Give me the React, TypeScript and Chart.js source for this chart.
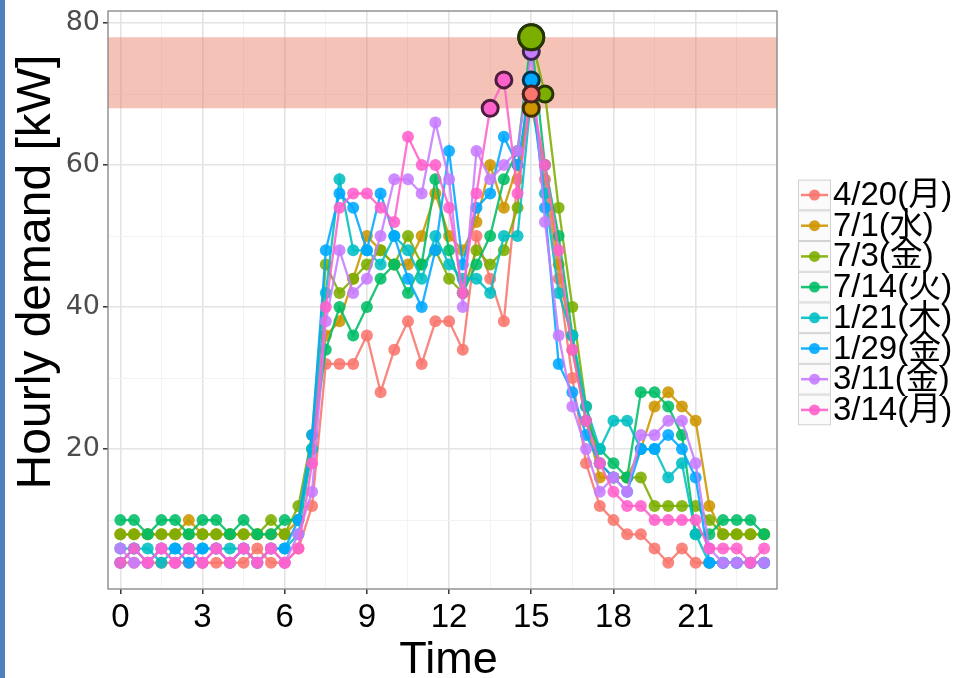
import React, { useEffect, useRef } from "react";
import { Chart, registerables } from "chart.js";

Chart.register(...registerables);

// ---------- data ----------
const TIMES = [0, 0.5, 1, 1.5, 2, 2.5, 3, 3.5, 4, 4.5, 5, 5.5, 6, 6.5, 7, 7.5, 8, 8.5, 9, 9.5, 10, 10.5, 11, 11.5, 12, 12.5, 13, 13.5, 14, 14.5, 15, 15.5, 16, 16.5, 17, 17.5, 18, 18.5, 19, 19.5, 20, 20.5, 21, 21.5, 22, 22.5, 23, 23.5];

const SERIES_LABELS = ["4/20(月)", "7/1(水)", "7/3(金)", "7/14(火)", "1/21(木)", "1/29(金)", "3/11(金)", "3/14(月)"];
const SERIES_COLORS = ["#F8766D", "#CD9600", "#7CAE00", "#00BE67", "#00BFC4", "#00A9FF", "#C77CFF", "#FF61CC"];

const D_0420 = [4, 4, 4, 4, 4, 4, 4, 4, 4, 4, 6, 4, 4, 6, 12, 32, 32, 32, 36, 28, 34, 38, 32, 38, 38, 34, 50, 44, 38, 58, 70, 58, 44, 30, 18, 12, 10, 8, 8, 6, 4, 6, 4, 4, 4, 4, 4, 4];
const D_0701 = [8, 8, 8, 8, 8, 10, 8, 8, 8, 8, 8, 8, 8, 10, 20, 36, 38, 44, 50, 48, 46, 46, 50, 56, 50, 48, 52, 60, 54, 60, 68, 60, 46, 34, 24, 16, 16, 16, 20, 26, 28, 26, 24, 12, 8, 8, 8, 8];
const D_0703 = [8, 8, 8, 8, 8, 8, 8, 8, 8, 8, 8, 10, 8, 12, 22, 46, 42, 44, 46, 48, 46, 50, 46, 48, 44, 42, 48, 46, 48, 54, 78, 70, 54, 40, 26, 18, 16, 16, 16, 12, 12, 12, 12, 10, 8, 8, 8, 8];
const D_0714 = [10, 10, 8, 10, 10, 8, 10, 10, 8, 10, 8, 8, 10, 10, 20, 34, 40, 36, 40, 44, 46, 42, 46, 58, 48, 42, 46, 50, 58, 62, 78, 60, 50, 36, 24, 20, 18, 16, 28, 28, 26, 22, 8, 8, 10, 10, 10, 8];
const D_0121 = [6, 6, 6, 4, 6, 6, 6, 6, 6, 6, 4, 6, 6, 8, 20, 42, 58, 48, 48, 46, 50, 48, 44, 50, 46, 44, 44, 42, 50, 50, 70, 56, 42, 36, 26, 20, 24, 24, 20, 20, 16, 18, 8, 4, 4, 4, 4, 4];
const D_0129 = [4, 6, 4, 6, 6, 4, 6, 6, 4, 6, 4, 6, 6, 10, 22, 48, 56, 54, 48, 56, 50, 44, 40, 48, 62, 46, 54, 56, 64, 60, 72, 54, 32, 28, 22, 18, 16, 14, 20, 20, 22, 20, 16, 4, 4, 4, 4, 4];
const D_0311 = [6, 4, 4, 6, 4, 6, 4, 6, 4, 6, 4, 6, 4, 8, 14, 38, 48, 42, 44, 50, 58, 58, 56, 66, 58, 40, 62, 58, 60, 62, 76, 52, 36, 26, 20, 14, 16, 14, 22, 22, 24, 24, 18, 6, 4, 4, 4, 4];
const D_0314 = [4, 6, 4, 6, 4, 6, 4, 6, 4, 6, 4, 6, 4, 6, 18, 40, 54, 56, 56, 54, 52, 64, 60, 60, 54, 42, 56, 68, 72, 56, 70, 60, 48, 34, 24, 18, 14, 12, 12, 10, 10, 10, 10, 6, 6, 6, 4, 6];

const SERIES_VALUES = [D_0420, D_0701, D_0703, D_0714, D_0121, D_0129, D_0311, D_0314];

const X_MAJOR_TICKS = [0, 3, 6, 9, 12, 15, 18, 21];
const X_MINOR_TICKS = [1.5, 4.5, 7.5, 10.5, 13.5, 16.5, 19.5, 22.5];
const Y_MAJOR_TICKS = [20, 40, 60, 80];
const Y_MINOR_TICKS = [10, 30, 50, 70];

const BAND_RANGE = [68, 78];
const HIGHLIGHT_MIN = 68;
const PEAK_VALUE = 78;

const X_TITLE = "Time";
const Y_TITLE = "Hourly demand [kW]";

// ---------- helpers ----------
function rgba(hex: string, a: number) {
  const n = parseInt(hex.slice(1), 16);
  return `rgba(${(n >> 16) & 255},${(n >> 8) & 255},${n & 255},${a})`;
}
function darken(hex: string, f: number) {
  const n = parseInt(hex.slice(1), 16);
  return `rgb(${Math.round(((n >> 16) & 255) * f)},${Math.round(((n >> 8) & 255) * f)},${Math.round((n & 255) * f)})`;
}

const FONT_SANS = '"Liberation Sans", Arial, sans-serif';

const decorPlugin = {
  id: "decor",
  beforeDatasetsDraw(chart: any) {
    const { ctx, chartArea, scales } = chart;
    const y = scales.y;
    const yTop = y.getPixelForValue(BAND_RANGE[1]);
    const yBot = y.getPixelForValue(BAND_RANGE[0]);
    ctx.save();
    ctx.fillStyle = "rgba(232,120,95,0.45)";
    ctx.fillRect(chartArea.left, yTop, chartArea.right - chartArea.left, yBot - yTop);
    ctx.restore();
  },
  afterDatasetsDraw(chart: any) {
    const { ctx, chartArea } = chart;
    ctx.save();
    ctx.strokeStyle = "#8c8c8c";
    ctx.lineWidth = 1.4;
    ctx.strokeRect(chartArea.left, chartArea.top, chartArea.right - chartArea.left, chartArea.bottom - chartArea.top);
    ctx.restore();
  },
  afterDraw(chart: any) {
    const { ctx, chartArea } = chart;
    ctx.save();
    ctx.fillStyle = "#000";
    ctx.font = `48px ${FONT_SANS}`;
    ctx.textAlign = "center";
    ctx.textBaseline = "alphabetic";
    ctx.translate(50, 272);
    ctx.rotate(-Math.PI / 2);
    ctx.fillText(Y_TITLE, 0, 0);
    ctx.restore();

    ctx.save();
    ctx.fillStyle = "#000";
    ctx.font = `45px ${FONT_SANS}`;
    ctx.textAlign = "center";
    ctx.textBaseline = "alphabetic";
    ctx.fillText(X_TITLE, (chartArea.left + chartArea.right) / 2 + 6, 673);
    ctx.restore();

    ctx.save();
    const keyX = 798;
    const keyW = 33;
    const keyH = 30.7;
    const firstCy = 195;
    SERIES_LABELS.forEach((label, i) => {
      const cy = firstCy + i * keyH;
      ctx.fillStyle = "#fbfbfb";
      ctx.fillRect(keyX, cy - keyH / 2, keyW, keyH);
      ctx.strokeStyle = "#d2d2d2";
      ctx.lineWidth = 1;
      ctx.strokeRect(keyX + 0.5, cy - keyH / 2 + 0.5, keyW - 1, keyH - 1);
      const c = SERIES_COLORS[i];
      ctx.strokeStyle = rgba(c, 0.9);
      ctx.lineWidth = 2.5;
      ctx.beginPath();
      ctx.moveTo(keyX + 3, cy);
      ctx.lineTo(keyX + keyW - 3, cy);
      ctx.stroke();
      ctx.fillStyle = rgba(c, 0.9);
      ctx.beginPath();
      ctx.arc(keyX + keyW / 2, cy, 5.5, 0, Math.PI * 2);
      ctx.fill();
      ctx.fillStyle = "#000";
      ctx.font = `33px ${FONT_SANS}, "Noto Sans CJK JP"`;
      ctx.textAlign = "left";
      ctx.textBaseline = "middle";
      ctx.fillText(label, keyX + keyW + 2, cy + 1);
    });
    ctx.restore();
  },
};

export default function App() {
  const canvasRef = useRef<HTMLCanvasElement | null>(null);

  useEffect(() => {
    const canvas = canvasRef.current;
    if (!canvas) return;

    const lineSets = SERIES_VALUES.map((vals, i) => ({
      label: SERIES_LABELS[i],
      data: TIMES.map((t, j) => ({ x: t, y: vals[j] })),
      borderColor: rgba(SERIES_COLORS[i], 0.88),
      backgroundColor: rgba(SERIES_COLORS[i], 0.88),
      pointBackgroundColor: rgba(SERIES_COLORS[i], 0.88),
      borderWidth: 2.3,
      pointBorderWidth: 0,
      pointRadius: (c: any) => (c.raw && c.raw.y >= HIGHLIGHT_MIN ? 0 : 6),
      pointHoverRadius: 6,
      tension: 0,
      order: -i,
    }));

    const highlightSets = SERIES_VALUES.map((vals, i) => ({
      label: SERIES_LABELS[i] + " peak",
      data: TIMES.map((t, j) => ({ x: t, y: vals[j] })).filter((p) => p.y >= HIGHLIGHT_MIN),
      showLine: false,
      pointBackgroundColor: SERIES_COLORS[i],
      pointBorderColor: darken(SERIES_COLORS[i], 0.3),
      pointBorderWidth: 3,
      pointRadius: (c: any) => (c.raw && c.raw.y >= PEAK_VALUE ? 12.5 : 8),
      pointHoverRadius: 8,
      order: -200 + i,
    }));

    const majorX = (v: number) => X_MAJOR_TICKS.includes(v);
    const majorY = (v: number) => Y_MAJOR_TICKS.includes(v);

    const chart = new Chart(canvas, {
      type: "line",
      data: { datasets: [...lineSets, ...highlightSets] as any },
      plugins: [decorPlugin as any],
      options: {
        animation: false,
        responsive: false,
        maintainAspectRatio: false,
        events: [],
        layout: { autoPadding: false, padding: { top: 11, right: 965 - 777, left: 0, bottom: 0 } },
        plugins: { legend: { display: false }, tooltip: { enabled: false } },
        scales: {
          x: {
            type: "linear",
            min: -0.45,
            max: 23.97,
            afterBuildTicks: (axis: any) => {
              axis.ticks = [...X_MAJOR_TICKS, ...X_MINOR_TICKS].sort((a, b) => a - b).map((v) => ({ value: v }));
            },
            afterFit: (axis: any) => {
              axis.height = 89;
              axis.paddingLeft = 0;
              axis.paddingRight = 0;
            },
            ticks: {
              autoSkip: false,
              maxRotation: 0,
              padding: 4,
              color: "#000",
              font: { family: FONT_SANS, size: 33 },
              callback: (v: any) => (majorX(Number(v)) ? String(v) : ""),
            },
            grid: {
              color: (c: any) => (c.tick && majorX(c.tick.value) ? "#e4e4e4" : "#f3f3f3"),
              lineWidth: (c: any) => (c.tick && majorX(c.tick.value) ? 1.6 : 1),
              tickColor: (c: any) => (c.tick && majorX(c.tick.value) ? "#333333" : "rgba(0,0,0,0)"),
              tickLength: 5,
              tickWidth: 1.5,
              drawTicks: true,
            },
            border: { display: false },
          },
          y: {
            type: "linear",
            min: 0.3,
            max: 81.7,
            afterBuildTicks: (axis: any) => {
              axis.ticks = [...Y_MINOR_TICKS, ...Y_MAJOR_TICKS].sort((a, b) => a - b).map((v) => ({ value: v }));
            },
            afterFit: (axis: any) => {
              axis.width = 108;
              axis.paddingTop = 0;
              axis.paddingBottom = 0;
            },
            ticks: {
              autoSkip: false,
              padding: 3,
              color: "#4d4d4d",
              font: { family: '"DejaVu Sans", sans-serif', size: 27, lineHeight: 0.8 },
              callback: (v: any) => (majorY(Number(v)) ? String(v) : ""),
            },
            grid: {
              color: (c: any) => (c.tick && majorY(c.tick.value) ? "#e4e4e4" : "#f3f3f3"),
              lineWidth: (c: any) => (c.tick && majorY(c.tick.value) ? 1.6 : 1),
              tickColor: (c: any) => (c.tick && majorY(c.tick.value) ? "#333333" : "rgba(0,0,0,0)"),
              tickLength: 5,
              tickWidth: 1.5,
              drawTicks: true,
            },
            border: { display: false },
          },
        },
      } as any,
    });

    return () => chart.destroy();
  }, []);

  return (
    <div style={{ position: "absolute", left: 0, top: 0, width: 965, height: 678, background: "#fff" }}>
      <div style={{ position: "absolute", left: 0, top: 0, width: 5, height: 678, background: "#4F81BD" }} />
      <canvas ref={canvasRef} width={965} height={678} style={{ position: "absolute", left: 0, top: 0, width: 965, height: 678 }} />
    </div>
  );
}
